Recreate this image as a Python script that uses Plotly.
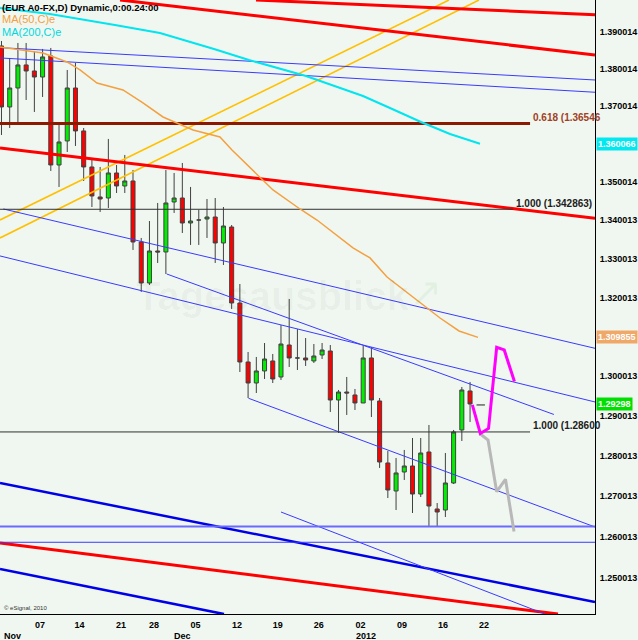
import math
import plotly.graph_objects as go

# daily EUR A0-FX candles, bar index = trading day (Nov 2011 - Jan 2012)
opens = [1.38617, 1.36983, 1.37489, 1.38106, 1.37944, 1.37783, 1.38348, 1.35447, 1.36081, 1.37489,
         1.36346, 1.35395, 1.34608, 1.34581, 1.35237, 1.34896, 1.35027, 1.33436, 1.32377, 1.33203,
         1.33177, 1.34477, 1.34581, 1.33929, 1.34007, 1.34033, 1.34085, 1.33410, 1.33825, 1.31863,
         1.30360, 1.29829, 1.30133, 1.30386, 1.29981, 1.30791, 1.30462, 1.30462, 1.30386, 1.30538,
         1.30639, 1.29401, 1.29602, 1.29527, 1.29326, 1.30462, 1.29376, 1.27827, 1.27133, 1.27603,
         1.27752, 1.27058, 1.28100, 1.26689, 1.26664, 1.27331, 1.28649, 1.29628]
highs = [1.38751, 1.38294, 1.38697, 1.38697, 1.38482, 1.38536, 1.38563, 1.36531, 1.37971, 1.38160,
         1.36425, 1.35579, 1.35395, 1.36134, 1.35447, 1.35711, 1.35316, 1.33540, 1.33981, 1.34451,
         1.35316, 1.35237, 1.35500, 1.34870, 1.34268, 1.34555, 1.34581, 1.34346, 1.33877, 1.32351,
         1.30614, 1.30487, 1.30842, 1.30563, 1.31300, 1.31966, 1.31198, 1.30969, 1.30816, 1.30842,
         1.30791, 1.29653, 1.29981, 1.29678, 1.30766, 1.30740, 1.29451, 1.28125, 1.27951, 1.28150,
         1.28449, 1.28449, 1.28774, 1.26836, 1.28075, 1.28649, 1.29729, 1.29855]
lows = [1.36239, 1.36425, 1.36557, 1.37169, 1.36850, 1.37249, 1.35290, 1.34870, 1.35790, 1.35949,
        1.35027, 1.34346, 1.34216, 1.34320, 1.34712, 1.34712, 1.33229, 1.32146, 1.32326, 1.32893,
        1.32609, 1.34190, 1.33669, 1.33359, 1.33359, 1.33540, 1.32893, 1.32841, 1.31710, 1.30107,
        1.29451, 1.29577, 1.29930, 1.29829, 1.29905, 1.30234, 1.30158, 1.30259, 1.30335, 1.30436,
        1.29100, 1.28574, 1.29025, 1.29150, 1.29326, 1.28974, 1.27703, 1.26959, 1.26664, 1.27405,
        1.26590, 1.26984, 1.26247, 1.26247, 1.26492, 1.27306, 1.28374, 1.28849]
closes = [1.36983, 1.37489, 1.38106, 1.37944, 1.37783, 1.38321, 1.35447, 1.36054, 1.37489, 1.36346,
          1.35395, 1.34634, 1.34555, 1.35237, 1.34896, 1.35027, 1.33436, 1.32377, 1.33203, 1.33177,
          1.34451, 1.34581, 1.33929, 1.33981, 1.34007, 1.34085, 1.33410, 1.33851, 1.31863, 1.30360,
          1.29829, 1.30133, 1.30436, 1.29930, 1.30816, 1.30462, 1.30462, 1.30411, 1.30512, 1.30664,
          1.29401, 1.29602, 1.29577, 1.29326, 1.30462, 1.29401, 1.27851, 1.27157, 1.27579, 1.27752,
          1.27058, 1.28075, 1.26762, 1.26615, 1.27331, 1.28599, 1.29653, 1.29301]

# moving averages
ma50_x = [-0.18, 2.25, 5.05, 7.97, 9.55, 11.62, 14.78, 17.21, 19.65, 23.30, 26.58, 28.04,
          31.45, 33.03, 36.31, 38.38, 42.76, 44.83, 46.90, 50.91, 53.35, 55.66, 57.97]
ma50_y = [1.38590, 1.38509, 1.38428, 1.38186, 1.37971, 1.37623, 1.37436, 1.37089, 1.36717, 1.36372,
          1.36187, 1.35843, 1.35106, 1.34791, 1.34294, 1.34007, 1.33281, 1.33022, 1.32531, 1.31863,
          1.31479, 1.31148, 1.30986]
ma200_x = [-0.18, 5.9, 13.8, 19.28, 25.85, 30.1, 37.04, 43.98, 47.26, 51.03, 54.56, 58.21]
ma200_y = [1.39643, 1.39480, 1.39183, 1.38967, 1.38536, 1.38240, 1.37810, 1.37276, 1.36956,
           1.36584, 1.36266, 1.36007]

# forecast paths
bull_x = [57.28, 58.25, 59.25, 60.24, 61.16, 62.40]
bull_y = [1.29276, 1.28562, 1.28687, 1.30733, 1.30665, 1.29865]
bear_x = [58.25, 59.19, 60.24, 61.31, 62.35]
bear_y = [1.28549, 1.28399, 1.27115, 1.27422, 1.26136]

# drawn trend lines, each [x0, x1], [y0, y1]
red_x = [[30.96, 72.2], [14.42, 72.2], [-0.18, 72.2], [-0.18, 67.7]]
red_y = [[1.39860, 1.39462], [1.39860, 1.38375], [1.35896, 1.34051], [1.25855, 1.24128]]
blue_thick_x = [[-0.18, 72.2], [-0.18, 27.07]]
blue_thick_y = [[1.27331, 1.24419], [1.25220, 1.24128]]
blue_x = [[-0.18, 72.2], [-0.18, 72.2], [0.24, 72.2], [-0.18, 72.2], [20.1, 67.2],
          [30.05, 72.2], [34.0, 66.12], [-0.18, 72.2]]
blue_y = [[1.38571, 1.37703], [1.38294, 1.37375], [1.34294, 1.30707], [1.33074, 1.29351],
          [1.32609, 1.29037], [1.29444, 1.26247], [1.26615, 1.24128], [1.25872, 1.25872]]
support_x = [-0.18, 72.2]
support_y = [1.26259, 1.26259]
yellow_x = [[-0.18, 54.44], [-0.18, 58.09]]
yellow_y = [[1.34007, 1.39860], [1.33540, 1.39860]]

fib_618 = 1.36546
fib_top = 1.342863
fib_low = 1.28600

price_ticks = [1.390014, 1.380014, 1.370014, 1.350014, 1.340013, 1.330013, 1.320013,
               1.300013, 1.290013, 1.280013, 1.270013, 1.260013, 1.250013]
date_tick_pos = [4.68, 9.49, 14.54, 18.55, 23.6, 28.65, 33.6, 38.6, 43.67, 48.72, 53.71, 58.7]
date_tick_text = ['07', '14', '21', '28', '05', '12', '19', '26', '02', '09', '16', '22']
month_pos = [0.06, 22.08, 44.34]
month_text = ['Nov', 'Dec', '2012']

FONT = 'Liberation Sans'
BG = '#F0F7F0'


def segments(xs, ys):
    # join several two-point lines into one trace separated by None
    sx, sy = [], []
    for x, y in zip(xs, ys):
        sx += x + [None]
        sy += y + [None]
    return sx, sy


fig = go.Figure()

fig.add_trace(go.Candlestick(
    x=list(range(len(opens))), open=opens, high=highs, low=lows, close=closes,
    increasing=dict(fillcolor='#00EE00', line=dict(color='#404040', width=1)),
    decreasing=dict(fillcolor='#FF0000', line=dict(color='#404040', width=1)),
    hoverinfo='skip'))

for xs, ys, color, width in [
        (yellow_x, yellow_y, '#FFC000', 1.6),
        (red_x, red_y, '#FF0000', 3),
        (blue_thick_x, blue_thick_y, '#0000E8', 2.5),
        (blue_x, blue_y, '#3A3AFF', 1)]:
    sx, sy = segments(xs, ys)
    fig.add_trace(go.Scatter(x=sx, y=sy, mode='lines', line=dict(color=color, width=width)))

fig.add_trace(go.Scatter(x=support_x, y=support_y, mode='lines', line=dict(color='#6A6AFF', width=2)))

# fib levels
fig.add_trace(go.Scatter(x=[-0.18, 64.3], y=[fib_618, fib_618], mode='lines',
                         line=dict(color='#8B1A00', width=3)))
fig.add_trace(go.Scatter(x=[-0.18, 62.2, None, -0.18, 64.3],
                         y=[fib_top, fib_top, None, fib_low, fib_low], mode='lines',
                         line=dict(color='#303030', width=1)))

fig.add_trace(go.Scatter(x=ma50_x, y=ma50_y, mode='lines', line=dict(color='#F4A040', width=1.5)))
fig.add_trace(go.Scatter(x=ma200_x, y=ma200_y, mode='lines', line=dict(color='#00E5EE', width=2)))

fig.add_trace(go.Scatter(x=bear_x, y=bear_y, mode='lines', line=dict(color='#B8B8B8', width=3)))
fig.add_trace(go.Scatter(x=bull_x, y=bull_y, mode='lines', line=dict(color='#FF00FF', width=3)))
fig.add_trace(go.Scatter(x=[58.3], y=[1.29276], mode='markers',
                         marker=dict(symbol='line-ew', size=6, line=dict(color='#202020', width=1))))

ann = []
# header texts
ann.append(dict(x=0, y=1, xref='paper', yref='paper', xanchor='left', yanchor='top',
                text='(EUR A0-FX,D) Dynamic,0:00.24:00', showarrow=False,
                font=dict(family=FONT, size=9.5, color='black', weight='bold')))
ann.append(dict(x=0, y=1 - 11 / 614, xref='paper', yref='paper', xanchor='left', yanchor='top',
                text='MA(50,C)e', showarrow=False, font=dict(family=FONT, size=11, color='#F4A040')))
ann.append(dict(x=0, y=1 - 24 / 614, xref='paper', yref='paper', xanchor='left', yanchor='top',
                text='MA(200,C)e', showarrow=False, font=dict(family=FONT, size=11, color='#00D8E0')))
ann.append(dict(x=2 / 595, y=6 / 614, xref='paper', yref='paper', xanchor='left', yanchor='middle',
                text='© eSignal, 2010', showarrow=False, font=dict(family=FONT, size=6, color='#333333')))
# watermark
ann.append(dict(x=134 / 595, y=1 - 296 / 614, xref='paper', yref='paper', xanchor='left', yanchor='middle',
                text='Tagesausblick', showarrow=False,
                font=dict(family=FONT, size=40, color='rgba(0,0,0,0.035)', weight='bold')))
ann.append(dict(x=426 / 595, y=1 - 292 / 614, xref='paper', yref='paper', xanchor='center', yanchor='middle',
                text='↗', showarrow=False, font=dict(family=FONT, size=40, color='rgba(0,160,0,0.06)')))

# fib labels
for txt, val, x0, col in [('0.618 (1.36546', fib_618, 64.4, '#A0401E'),
                          ('1.000 (1.342863)', fib_top, 62.4, '#202020'),
                          ('1.000 (1.28600', fib_low, 64.4, '#202020')]:
    ann.append(dict(x=x0, y=math.log10(val), xref='x', yref='y', xanchor='left', yanchor='middle',
                    yshift=6, text=txt, showarrow=False,
                    font=dict(family=FONT, size=10, color=col, weight='bold')))

# highlighted axis values
for txt, val, col in [('1.360066', 1.360066, '#00E8F0'),
                      ('1.309855', 1.309855, '#F0A868'),
                      ('1.29298', 1.29298, '#00E000')]:
    ann.append(dict(x=1, y=math.log10(val), xref='paper', yref='y', xanchor='left', yanchor='middle',
                    xshift=1, text=txt, showarrow=False, bgcolor=col, borderpad=1,
                    font=dict(family=FONT, size=9, color='white', weight='bold')))

for i, (pos, txt) in enumerate(zip(month_pos, month_text)):
    ann.append(dict(x=pos, y=-22.5 / 614, xref='x', yref='paper',
                    xanchor='left' if i == 0 else 'center', yanchor='middle',
                    text=txt, showarrow=False,
                    font=dict(family=FONT, size=9, color='black', weight='bold')))

fig.update_layout(
    width=638, height=640,
    margin=dict(l=0, r=43, t=0, b=26),
    paper_bgcolor=BG, plot_bgcolor=BG,
    showlegend=False,
    annotations=ann,
    xaxis=dict(range=[-0.18, 72.2], rangeslider=dict(visible=False), showgrid=False, zeroline=False,
               showline=True, linecolor='black', linewidth=1, ticks='',
               tickvals=date_tick_pos, ticktext=date_tick_text, automargin=False,
               ticklabelstandoff=2,
               tickfont=dict(family=FONT, size=9, color='black', weight='bold')),
    yaxis=dict(type='log', side='right', range=[math.log10(1.24130), math.log10(1.39860)],
               showgrid=False, zeroline=False, showline=True, linecolor='black', linewidth=1,
               ticks='', tickvals=price_ticks, ticktext=['%.6f' % v for v in price_ticks],
               automargin=False, ticklabelstandoff=2,
               tickfont=dict(family=FONT, size=9, color='black', weight='bold')),
)

# page body has a default 8px margin; drop it so the figure sits at the window corner
fig.write_html("out.html", config={'displayModeBar': False},
               post_script="document.body.style.margin='0';")
